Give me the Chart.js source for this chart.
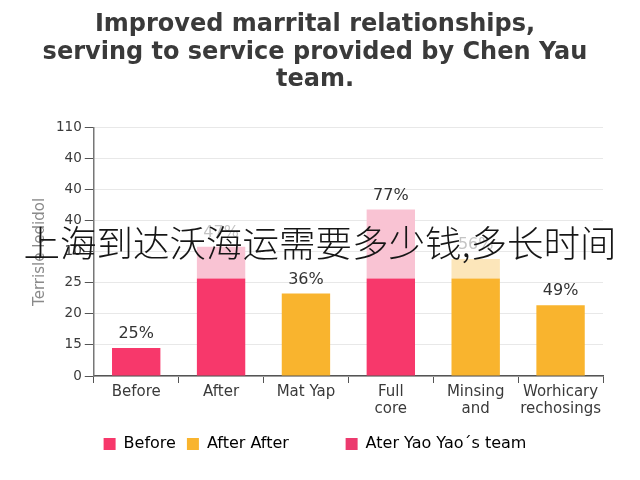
<!DOCTYPE html>
<html>
<head>
<meta charset="utf-8">
<script src="https://cdn.jsdelivr.net/npm/chart.js@4/dist/chart.umd.min.js"></script>
<style>
  html, body { margin: 0; padding: 0; background: #fff; }
  #wrap { position: relative; width: 640px; height: 480px; }
  #overlay {
    position: absolute; left: 0; width: 640px; top: 222px; text-align: center;
    font-family: "Noto Sans CJK SC", sans-serif; font-size: 36.5px; line-height: 40px;
    color: #161616; font-weight: 300; white-space: nowrap; pointer-events: none;
  }
</style>
</head>
<body>
<div id="wrap">
  <canvas id="c" width="640" height="480"></canvas>
  <div id="overlay">上海到达沃海运需要多少钱,多长时间</div>
</div>
<script>
const titleLines = ["Improved marrital relationships,", "serving to service provided by Chen Yau", "team."];
const yAxisTitle = "Terrisle ledidol";
const categories = ["Before", "After", "Mat Yap", ["Full", "core"], ["Minsing", "and"], ["Worhicary", "rechosings"]];
const yTickLabels = ["0", "15", "20", "25", "10", "40", "40", "40", "110"];
const redBase = [0.9, 3.14, null, 3.14, null, null];
const yellowBase = [null, null, 2.66, null, 3.14, 2.28];
const topPart = [null, 1.03, null, 2.23, 0.63, null];
const valueLabels = ["25%", "47%", "36%", "77%", "56%", "49%"];
const fadedLabel = [false, true, false, false, true, false];
const legendNames = ["Before", "After After", "Ater Yao Yao´s team"];

const RED = "#F7386B", PINK = "#F9C3D3", YELLOW = "#F9B42E", LIGHTYELLOW = "#FCE6BA", RED2 = "#EC3A6E";
const topColors = [PINK, PINK, PINK, PINK, LIGHTYELLOW, PINK];
const legendColors = [RED, YELLOW, RED2];
const FONT = '"DejaVu Sans", sans-serif';

const valueLabelPlugin = {
  id: 'valueLabels',
  afterDatasetsDraw(chart) {
    const ctx = chart.ctx;
    const y = chart.scales.y, x = chart.scales.x;
    ctx.save();
    ctx.font = '16px ' + FONT;
    ctx.textAlign = 'center';
    ctx.textBaseline = 'bottom';
    for (let i = 0; i < categories.length; i++) {
      const total = (redBase[i] || 0) + (yellowBase[i] || 0) + (topPart[i] || 0);
      ctx.fillStyle = fadedLabel[i] ? '#c4c4c4' : '#333';
      ctx.fillText(valueLabels[i], x.getPixelForValue(i), y.getPixelForValue(total) - 6);
    }
    ctx.restore();
  }
};

new Chart(document.getElementById('c'), {
  type: 'bar',
  data: {
    labels: categories,
    datasets: [
      { label: legendNames[0], data: redBase, backgroundColor: RED, barPercentage: 0.6, categoryPercentage: 0.95 },
      { label: legendNames[1], data: yellowBase, backgroundColor: YELLOW, barPercentage: 0.6, categoryPercentage: 0.95 },
      { label: legendNames[2], data: topPart, backgroundColor: topColors, barPercentage: 0.6, categoryPercentage: 0.95 }
    ]
  },
  options: {
    responsive: false,
    animation: false,
    layout: { padding: { left: 27, right: 37, top: 0, bottom: 18 } },
    plugins: {
      title: {
        display: true, text: titleLines, color: '#3a3a3a',
        font: { family: FONT, size: 24, weight: 'bold', lineHeight: 1.15 },
        padding: { top: 11, bottom: 34 }
      },
      legend: {
        position: 'bottom',
        labels: {
          color: '#3a3a3a', boxWidth: 12, boxHeight: 12, padding: 11,
          font: { family: FONT, size: 16 },
          generateLabels() {
            return legendNames.map((n, i) => ({
              text: n + (i === 1 ? '         ' : ''),
              fillStyle: legendColors[i], strokeStyle: legendColors[i], lineWidth: 0,
              datasetIndex: i, hidden: false
            }));
          }
        }
      },
      tooltip: { enabled: false }
    },
    scales: {
      x: {
        stacked: true,
        grid: { display: true, drawOnChartArea: false, offset: true, tickLength: 7, tickColor: '#555' },
        border: { color: '#555', width: 1.5 },
        title: { display: true, text: ' ', font: { size: 5, lineHeight: 1 }, padding: { top: 1, bottom: 1 } },
        ticks: { color: '#3a3a3a', font: { family: FONT, size: 15, lineHeight: 1.1 }, maxRotation: 0, padding: 1 }
      },
      y: {
        stacked: true, min: 0, max: 8,
        grid: { color: '#e8e8e8', tickColor: '#555', tickLength: 9 },
        border: { color: '#777', width: 1.5 },
        title: { display: true, text: yAxisTitle, color: '#8a8a8a', font: { family: FONT, size: 15 }, padding: 4 },
        ticks: {
          stepSize: 1, color: '#3a3a3a', padding: 3,
          font: { family: FONT, size: 13.5 },
          callback: (v) => yTickLabels[v]
        }
      }
    }
  },
  plugins: [valueLabelPlugin]
});
</script>
</body>
</html>
